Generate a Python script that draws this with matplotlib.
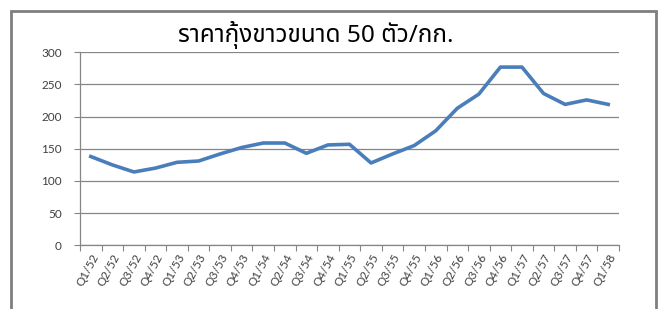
import matplotlib
matplotlib.use("Agg")
import matplotlib.pyplot as plt
from matplotlib.lines import Line2D

# quarterly price, Thai Buddhist years 2552-2558
quarters = ["Q1/52", "Q2/52", "Q3/52", "Q4/52",
            "Q1/53", "Q2/53", "Q3/53", "Q4/53",
            "Q1/54", "Q2/54", "Q3/54", "Q4/54",
            "Q1/55", "Q2/55", "Q3/55", "Q4/55",
            "Q1/56", "Q2/56", "Q3/56", "Q4/56",
            "Q1/57", "Q2/57", "Q3/57", "Q4/57",
            "Q1/58"]
price = [138, 125, 114, 120, 129, 131, 142, 152, 159, 159, 143, 156, 157,
         128, 142, 155, 178, 213, 235, 277, 277, 236, 219, 226, 219]
y_ticks = [0, 50, 100, 150, 200, 250, 300]

title = "ราคากุ้งขาวขนาด 50 ตัว/กก."

fig = plt.figure(figsize=(6.62, 3.09), dpi=100)
ax = fig.add_axes([80 / 662, 1 - 245.3 / 309, 539 / 662, 193 / 309])

x = list(range(len(quarters)))
ax.plot(x, price, color="#4a7ebb", linewidth=2.6, solid_joinstyle="round")

ax.set_xlim(-0.5, len(quarters) - 0.5)
ax.set_ylim(0, 300)
ax.set_yticks(y_ticks)
ax.set_yticklabels([str(v) for v in y_ticks])

# category ticks sit between the points, labels under each point
ax.set_xticks([i - 0.5 for i in range(len(quarters) + 1)], minor=False)
ax.set_xticklabels([])
ax.set_xticks(x, minor=True)
ax.set_xticklabels(quarters, minor=True, rotation=62, ha="right",
                   rotation_mode="anchor")
ax.tick_params(axis="x", which="minor", length=0, pad=5)
ax.tick_params(axis="x", which="major", length=4, color="#868686", width=0.8)
ax.tick_params(axis="y", length=4, color="#868686", width=0.8, pad=9)
for lab in ax.get_xticklabels(minor=True) + ax.get_yticklabels():
    lab.set_fontfamily("Lato")
    lab.set_fontsize(8.5)
    lab.set_color("#404040")

ax.grid(axis="y", color="#868686", linewidth=0.9)
ax.set_axisbelow(True)
for side in ["top", "right"]:
    ax.spines[side].set_visible(False)
for side in ["left", "bottom"]:
    ax.spines[side].set_color("#868686")
    ax.spines[side].set_linewidth(0.9)

fig.text(316 / 662, 1 - 35 / 309, title, ha="center", va="center",
         fontsize=17.5, family=["Noto Sans Thai", "DejaVu Sans"], color="#000000")

# chart frame, bottom edge runs off the picture
fl, fr, ft = 10.5 / 662, 655.5 / 662, 1 - 10.5 / 309
frame = Line2D([fl, fl, fr, fr], [-0.1, ft, ft, -0.1], transform=fig.transFigure,
               color="#7f7f7f", linewidth=2.0, solid_joinstyle="miter",
               zorder=10)
fig.add_artist(frame)

fig.savefig("out.png", dpi=100)
